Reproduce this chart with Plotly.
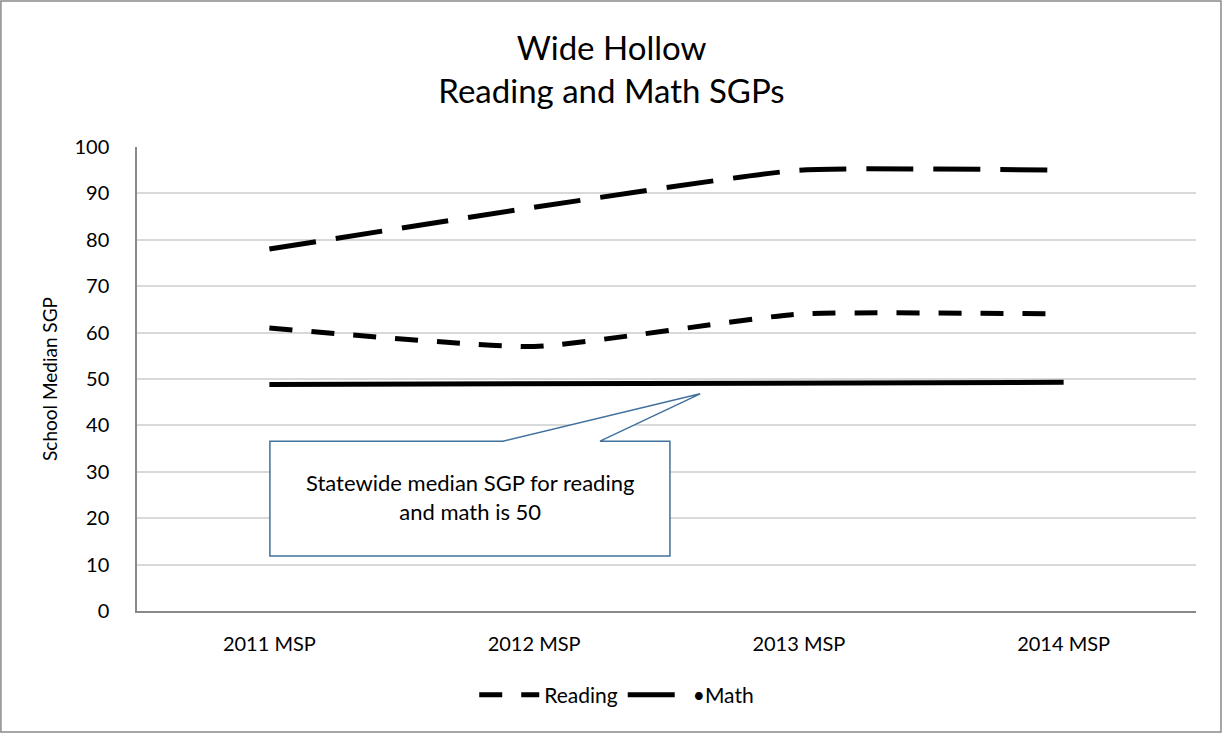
import plotly.graph_objects as go

categories = ["2011 MSP", "2012 MSP", "2013 MSP", "2014 MSP"]
reading = [61, 57, 64, 64]
math = [78, 87, 95, 95]
statewide = [48.8, 49.0, 49.1, 49.3]
y_ticks = [0, 10, 20, 30, 40, 50, 60, 70, 80, 90, 100]

FONT = "Lato"

fig = go.Figure()
fig.add_trace(go.Scatter(
    x=categories, y=reading, name="Reading", mode="lines",
    line=dict(color="black", width=5, dash="23px,19px", shape="spline", smoothing=0.45),
))
fig.add_trace(go.Scatter(
    x=categories, y=math, name="•Math", mode="lines",
    line=dict(color="black", width=5, dash="47px,20px", shape="spline", smoothing=0.45),
))
fig.add_trace(go.Scatter(
    x=categories, y=statewide, name="Statewide", mode="lines", showlegend=False,
    line=dict(color="black", width=5),
))

# callout box (data coords on category axis index)
path = ("M 0.002,36.6 L 0.882,36.6 L 1.627,46.8 L 1.249,36.6 "
        "L 1.513,36.6 L 1.513,11.85 L 0.002,11.85 Z")
fig.add_shape(type="path", path=path, xref="x", yref="y",
              line=dict(color="#41719C", width=1.5), fillcolor="white", layer="above")
fig.add_annotation(x=0.758, y=24.6, xref="x", yref="y",
                   text="Statewide median SGP for reading<br>and math is 50",
                   showarrow=False, font=dict(family=FONT, size=22, color="black"),
                   align="center")

# outer border
fig.add_shape(type="rect", xref="paper", yref="paper",
              x0=-0.1285, x1=1.0236, y0=-0.2608, y1=1.3147,
              line=dict(color="#898989", width=1.5), fillcolor="rgba(0,0,0,0)", layer="below")

fig.update_layout(
    width=1223, height=734,
    margin=dict(l=137, r=27, t=147, b=123),
    paper_bgcolor="white", plot_bgcolor="white",
    font=dict(family=FONT, color="black", size=18),
    title=dict(text="Wide Hollow<br>Reading and Math SGPs", x=0.5, xanchor="center",
               y=0.918, yanchor="top", font=dict(family=FONT, size=33, color="black")),
    xaxis=dict(range=[-0.5, 3.5], showgrid=False, showline=True, linecolor="#898989",
               linewidth=1.5, ticks="", ticklabelstandoff=14,
               tickfont=dict(family=FONT, size=20, color="black")),
    yaxis=dict(range=[0, 100], tickvals=y_ticks, showgrid=True, gridcolor="#d9d9d9",
               gridwidth=1.5, showline=True, linecolor="#898989", linewidth=1.5,
               ticks="", ticklabelstandoff=22, zeroline=False,
               tickfont=dict(family=FONT, size=20, color="black"),
               title=dict(text="School Median SGP", font=dict(family=FONT, size=19, color="black"),
                          standoff=12)),
    legend=dict(orientation="h", x=0.453, xanchor="center", y=-0.181, yanchor="middle",
                font=dict(family=FONT, size=21, color="black"), itemwidth=60),
    showlegend=True,
)

fig.write_html("out.html", config={"displayModeBar": False},
               post_script="document.body.style.margin='0';document.body.style.padding='0';")
